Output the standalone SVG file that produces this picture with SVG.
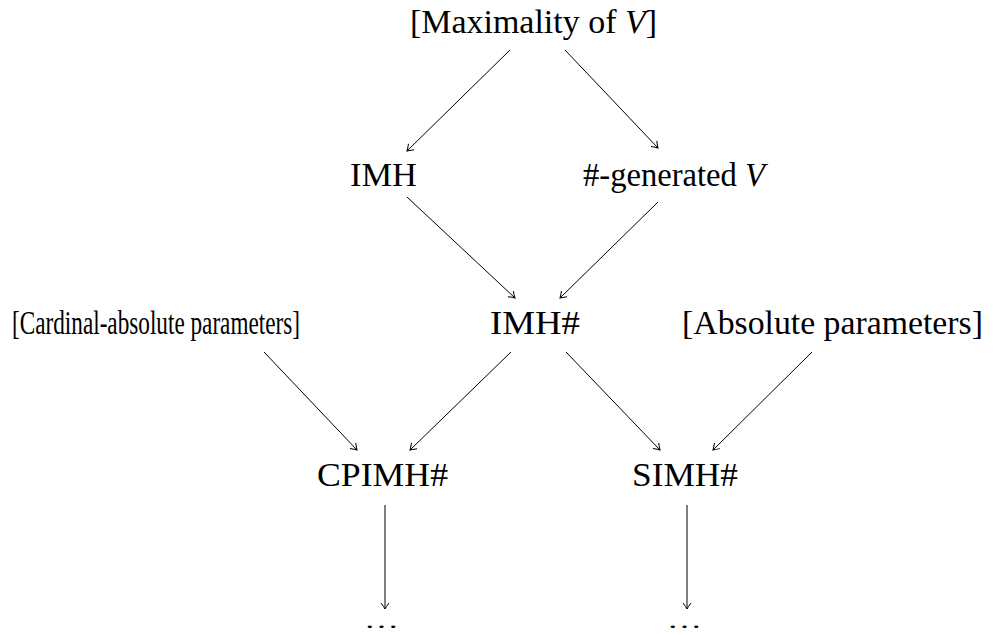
<svg xmlns="http://www.w3.org/2000/svg" width="998" height="635" viewBox="0 0 998 635">
<defs>
<marker id="ah" viewBox="-8 -5 10 10" refX="0" refY="0" markerWidth="10" markerHeight="10" markerUnits="userSpaceOnUse" orient="auto">
<path d="M-6,-4 Q-2,-1 0,0 Q-2,1 -6,4" fill="none" stroke="#000" stroke-width="1"/>
</marker>
<style>
text{font-family:"Liberation Serif","Times New Roman",serif;font-size:33px;fill:#000}
.it{font-style:italic}
.dots{font-size:22px}
.c line{stroke:#000;stroke-width:1;marker-end:url(#ah)}
</style>
</defs>
<rect width="998" height="635" fill="#fff"/>
<g id="n-max"><text x="410" y="33" textLength="247" lengthAdjust="spacingAndGlyphs">[Maximality of <tspan class="it">V</tspan>]</text></g>
<g id="n-imh"><text x="350" y="186" textLength="67" lengthAdjust="spacingAndGlyphs">IMH</text></g>
<g id="n-gen"><text x="583" y="186" textLength="182" lengthAdjust="spacingAndGlyphs">#-generated <tspan class="it">V</tspan></text></g>
<g id="n-card"><text x="12" y="334" textLength="288" lengthAdjust="spacingAndGlyphs">[Cardinal-absolute parameters]</text></g>
<g id="n-imhs"><text x="490" y="334" textLength="90" lengthAdjust="spacingAndGlyphs">IMH#</text></g>
<g id="n-abs"><text x="682" y="334" textLength="301" lengthAdjust="spacingAndGlyphs">[Absolute parameters]</text></g>
<g id="n-cp"><text x="317" y="486" textLength="131" lengthAdjust="spacingAndGlyphs">CPIMH#</text></g>
<g id="n-s"><text x="632" y="486" textLength="106" lengthAdjust="spacingAndGlyphs">SIMH#</text></g>
<g id="n-d1"><text class="dots" x="364" y="628" textLength="35" lengthAdjust="spacingAndGlyphs">…</text></g>
<g id="n-d2"><text class="dots" x="667" y="628" textLength="35" lengthAdjust="spacingAndGlyphs">…</text></g>
<g class="c" id="connectors">
<line x1="510" y1="50" x2="407" y2="151"/>
<line x1="565" y1="50" x2="658" y2="148"/>
<line x1="407" y1="197" x2="515" y2="298"/>
<line x1="658" y1="202" x2="560" y2="298"/>
<line x1="264" y1="352" x2="357" y2="450"/>
<line x1="511" y1="352" x2="410" y2="450"/>
<line x1="566" y1="352" x2="660" y2="450"/>
<line x1="812" y1="352" x2="713" y2="450"/>
<line x1="385" y1="505" x2="385" y2="609"/>
<line x1="687" y1="505" x2="687" y2="609"/>
</g>
</svg>
